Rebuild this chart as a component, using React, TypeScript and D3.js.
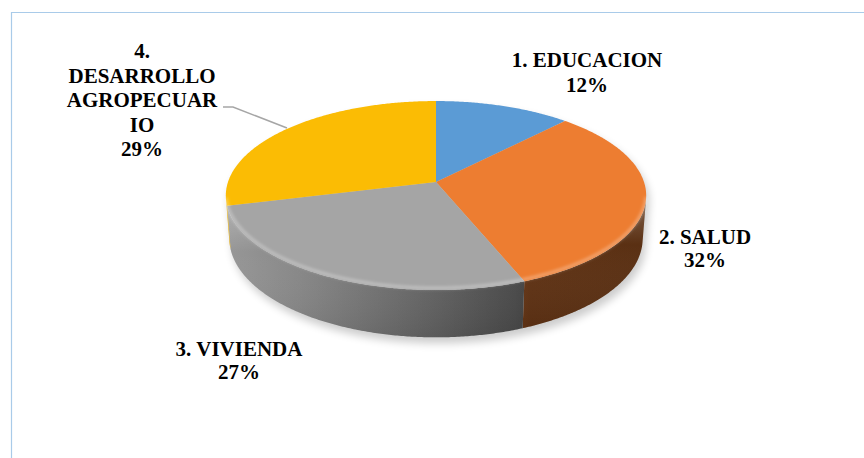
import React from "react";
import * as d3 from "d3";

const categories = ["1. EDUCACION", "2. SALUD", "3. VIVIENDA", "4. DESARROLLO AGROPECUARIO"];
const values = [12, 32, 27, 29];
const percentLabels = ["12%", "32%", "27%", "29%"];
const colors = ["#5b9bd5", "#ed7d31", "#a5a5a5", "#fbbc04"];
const labelLines = [
  ["1. EDUCACION", "12%"],
  ["2. SALUD", "32%"],
  ["3. VIVIENDA", "27%"],
  ["4.", "DESARROLLO", "AGROPECUAR", "IO", "29%"],
];

const W = 864, H = 458;
const CX = 436, CY = 182;
const R = 0.16, DEPTH = 0.037, SA = 0.445, CA = Math.sqrt(1 - SA * SA), F = 1300;

function proj(theta: number, Y: number): [number, number] {
  const X = R * Math.sin(theta);
  const Z = -R * Math.cos(theta);
  const up = Y * CA - Z * SA;
  const dep = 1 - Y * SA - Z * CA;
  return [CX + (X * F) / dep, CY - (up * F) / dep];
}

function darken(c: string, f: number) {
  const rgb = d3.rgb(c);
  return d3.rgb(rgb.r * f, rgb.g * f, rgb.b * f).formatHex();
}

const shadeStops: [number, number][] = [
  [224, 0.92],
  [300, 0.82],
  [420, 0.62],
  [515, 0.45],
  [530, 0.4],
  [642, 0.38],
];

export default function App() {
  const pie = d3.pie<number>().sort(null).startAngle(0).endAngle(2 * Math.PI);
  const arcs = pie(values);
  const step = Math.PI / 360;
  const line = d3.line<[number, number]>();
  const limit = -R / CA;
  const a0 = Math.acos(limit);
  const a1 = 2 * Math.PI - a0;

  const tops = arcs.map((a) => {
    const pts: [number, number][] = [[CX, CY]];
    for (let t = a.startAngle; t < a.endAngle; t += step) pts.push(proj(t, 0));
    pts.push(proj(a.endAngle, 0));
    return line(pts) + "Z";
  });

  const sides: { d: string; i: number }[] = [];
  arcs.forEach((a, i) => {
    const s = Math.max(a.startAngle, a0);
    const e = Math.min(a.endAngle, a1);
    if (e <= s) return;
    const topPts: [number, number][] = [];
    const botPts: [number, number][] = [];
    for (let t = s; t < e; t += step) {
      topPts.push(proj(t, 0));
      botPts.push(proj(t, -DEPTH));
    }
    topPts.push(proj(e, 0));
    botPts.push(proj(e, -DEPTH));
    sides.push({ d: line([...topPts, ...botPts.reverse()]) + "Z", i });
  });

  const shadowPts: [number, number][] = [];
  for (let t = 0; t < 2 * Math.PI; t += step * 2) {
    shadowPts.push(Math.cos(t) < limit ? proj(t, -DEPTH) : proj(t, 0));
  }
  const shadowD = line(shadowPts) + "Z";

  const rimPts: [number, number][] = [];
  for (let t = a0; t < a1; t += step) rimPts.push(proj(t, 0));
  const rimD = line(rimPts) ?? "";

  const labelPos: { x: number; y: number }[] = [
    { x: 587, y: 67 },
    { x: 705, y: 244 },
    { x: 239, y: 356 },
    { x: 142, y: 58 },
  ];
  const lineH = [25, 23, 23, 24.5];

  const leader = d3.line<[number, number]>()([
    [223, 107],
    [233, 107],
    [287, 128],
  ]);

  return (
    <svg width={W} height={H} style={{ position: "absolute", left: 0, top: 0, display: "block" }}>
      <defs>
        <filter id="blur" x="-20%" y="-20%" width="140%" height="140%">
          <feGaussianBlur stdDeviation={4} />
        </filter>
        <filter id="blur2" x="-20%" y="-20%" width="140%" height="140%">
          <feGaussianBlur stdDeviation={1.6} />
        </filter>
        {colors.map((c, i) => (
          <linearGradient key={i} id={"side" + i} gradientUnits="userSpaceOnUse" x1={224} x2={642} y1={0} y2={0}>
            {shadeStops.map(([x, f], j) => (
              <stop key={j} offset={(x - 224) / (642 - 224)} stopColor={darken(c, f)} />
            ))}
          </linearGradient>
        ))}
        <linearGradient id="bevel" x1={0} x2={0} y1={0} y2={1}>
          <stop offset={0} stopColor="#ffffff" stopOpacity={0.25} />
          <stop offset={0.35} stopColor="#ffffff" stopOpacity={0} />
          <stop offset={1} stopColor="#000000" stopOpacity={0.08} />
        </linearGradient>
      </defs>
      <rect x={0} y={0} width={W} height={H} fill="#ffffff" />
      <line x1={11.5} y1={12} x2={11.5} y2={H} stroke="#a9cbe9" strokeWidth={1.2} />
      <line x1={11} y1={12.5} x2={W} y2={12.5} stroke="#a9cbe9" strokeWidth={1.2} />
      <path d={shadowD} fill="#000" opacity={0.2} transform="translate(3,6)" filter="url(#blur)" />
      {sides.map((s, k) => (
        <g key={"s" + k}>
          <path d={s.d} fill={`url(#side${s.i})`} />
          <path d={s.d} fill="url(#bevel)" />
        </g>
      ))}
      {tops.map((d, i) => (
        <path key={"t" + i} d={d} fill={colors[i]} />
      ))}
      <path d={rimD} fill="none" stroke="#ffffff" strokeOpacity={0.3} strokeWidth={3} filter="url(#blur2)" transform="translate(0,-2)" />
      <path d={leader ?? ""} fill="none" stroke="#a6a6a6" strokeWidth={1.5} />
      {labelLines.map((ls, i) => (
        <text
          key={"l" + i}
          x={labelPos[i].x}
          y={labelPos[i].y}
          textAnchor="middle"
          fontFamily="Liberation Serif"
          fontWeight="bold"
          fontSize={21}
          fill="#000"
        >
          {ls.map((t, j) => (
            <tspan key={j} x={labelPos[i].x} y={labelPos[i].y + j * lineH[i]}>
              {t}
            </tspan>
          ))}
        </text>
      ))}
      <title>{categories.join(", ") + " " + percentLabels.join(", ")}</title>
    </svg>
  );
}
